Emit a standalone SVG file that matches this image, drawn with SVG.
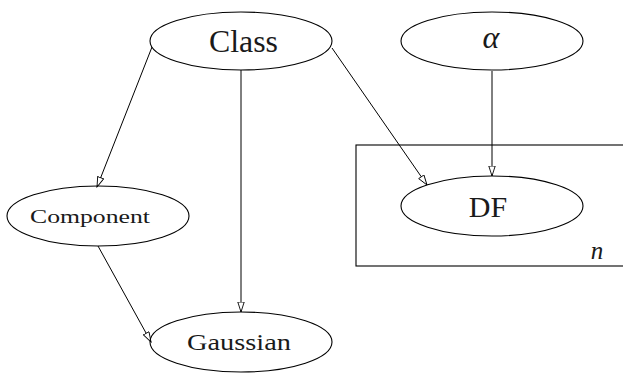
<svg xmlns="http://www.w3.org/2000/svg" width="623" height="375" viewBox="0 0 623 375">
<style>
.node ellipse{fill:none;stroke:#000;stroke-width:1.1}
.edge{stroke:#000;stroke-width:1;fill:none;marker-end:url(#arr)}
text{font-family:'Liberation Serif',serif;fill:#1a1a1a;text-anchor:middle}
.plate{fill:none;stroke:#000;stroke-width:1.1}
</style>
<defs>
<marker id="arr" markerUnits="userSpaceOnUse" markerWidth="12" markerHeight="9" refX="10.5" refY="3.5" orient="auto">
<path d="M0.5,0.3 L10.5,3.5 L0.5,6.7 Z" fill="#fff" stroke="#000" stroke-width="0.9"/>
</marker>
</defs>
<rect class="plate" x="356" y="145" width="272" height="121"/>
<text x="597" y="259" font-style="italic" font-size="25">n</text>
<g id="connectors">
<line class="edge" x1="152" y1="47" x2="97" y2="187"/>
<line class="edge" x1="241" y1="70" x2="241" y2="312"/>
<line class="edge" x1="332" y1="48" x2="427" y2="185"/>
<line class="edge" x1="492" y1="71" x2="492" y2="176"/>
<line class="edge" x1="98" y1="246" x2="151" y2="342"/>
</g>
<g id="class" class="node">
<ellipse cx="241" cy="41" rx="91" ry="29"/>
<text x="243.5" y="52" font-size="31" textLength="69" lengthAdjust="spacingAndGlyphs">Class</text>
</g>
<g id="alpha" class="node">
<ellipse cx="492" cy="41" rx="91" ry="29"/>
<text x="491" y="48" font-size="32" font-style="italic">α</text>
</g>
<g id="component" class="node">
<ellipse cx="98" cy="216" rx="91" ry="30"/>
<text x="90" y="223" font-size="19" textLength="120" lengthAdjust="spacingAndGlyphs">Component</text>
</g>
<g id="df" class="node">
<ellipse cx="492" cy="206" rx="91" ry="30"/>
<text x="488" y="217" font-size="30">DF</text>
</g>
<g id="gaussian" class="node">
<ellipse cx="241" cy="342" rx="91" ry="30"/>
<text x="239" y="350" font-size="23" textLength="104" lengthAdjust="spacingAndGlyphs">Gaussian</text>
</g>
</svg>
